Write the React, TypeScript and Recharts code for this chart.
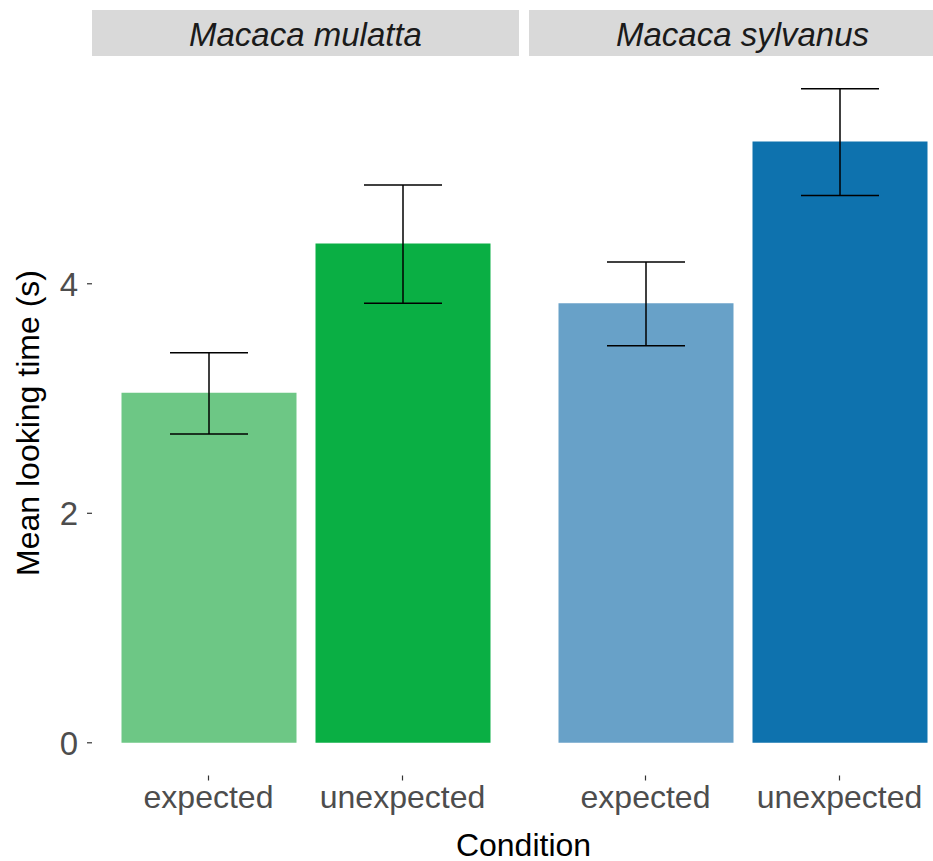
import React from "react";
import { BarChart, Bar, XAxis, YAxis, ErrorBar, Cell } from "recharts";

const categories = ["expected", "unexpected"];
const facetLabels = ["Macaca mulatta", "Macaca sylvanus"];

const mulattaMeans = [3.05, 4.35];
const mulattaLower = [2.69, 3.83];
const mulattaUpper = [3.4, 4.86];
const mulattaColors = ["#6DC785", "#0AAF44"];

const sylvanusMeans = [3.83, 5.24];
const sylvanusLower = [3.46, 4.77];
const sylvanusUpper = [4.19, 5.7];
const sylvanusColors = ["#68A1C8", "#0E72AE"];

const yTicks = [0, 2, 4];

const FONT = "'Liberation Sans', Arial, Helvetica, sans-serif";

const build = (means: number[], lower: number[], upper: number[]) =>
  categories.map((c, i) => ({
    condition: c,
    mean: means[i],
    err: [means[i] - lower[i], upper[i] - means[i]],
  }));

const mulattaData = build(mulattaMeans, mulattaLower, mulattaUpper);
const sylvanusData = build(sylvanusMeans, sylvanusLower, sylvanusUpper);

const Y_DOMAIN: [number, number] = [-0.285, 5.985];
const CH = 861;
const TOP = 56;
const BOTTOM = 85.5;

const XTick = (props: any) => {
  const { x, y, payload } = props;
  return (
    <text x={x} y={y + 25.5} textAnchor="middle" fill="#4D4D4D" fontSize={32} fontFamily={FONT}>
      {payload.value}
    </text>
  );
};

const YTick = (props: any) => {
  const { x, y, payload } = props;
  return (
    <text x={x} y={y + 12} textAnchor="end" fill="#4D4D4D" fontSize={33} fontFamily={FONT}>
      {payload.value}
    </text>
  );
};

const Panel = ({ data, colors, showY }: { data: any[]; colors: string[]; showY: boolean }) => (
  <BarChart
    width={showY ? 519 : 427}
    height={CH}
    data={data}
    margin={{ top: TOP, bottom: 0, left: 0, right: 0 }}
    barSize={175}
  >
    <XAxis
      dataKey="condition"
      height={BOTTOM}
      padding={{ left: 19.5, right: 19.5 }}
      axisLine={false}
      tickLine={{ stroke: "#333333", strokeWidth: 1.2 }}
      tickSize={5}
      tickMargin={2}
      tick={<XTick />}
      interval={0}
    />
    <YAxis
      domain={Y_DOMAIN}
      ticks={yTicks}
      type="number"
      allowDataOverflow
      hide={!showY}
      width={92}
      axisLine={false}
      tickLine={{ stroke: "#333333", strokeWidth: 1.2 }}
      tickSize={5}
      tickMargin={9}
      tick={<YTick />}
    />
    <Bar dataKey="mean" isAnimationActive={false}>
      {data.map((d, i) => (
        <Cell key={d.condition} fill={colors[i]} />
      ))}
      <ErrorBar dataKey="err" width={39} stroke="#000000" strokeWidth={1.5} direction="y" />
    </Bar>
  </BarChart>
);

export default function App() {
  return (
    <div
      style={{
        position: "absolute",
        left: 0,
        top: 0,
        width: 933,
        height: 861,
        overflow: "hidden",
        background: "#ffffff",
      }}
    >
      <div style={{ position: "absolute", left: 0, top: 0 }}>
        <Panel data={mulattaData} colors={mulattaColors} showY={true} />
      </div>
      <div style={{ position: "absolute", left: 529, top: 0 }}>
        <Panel data={sylvanusData} colors={sylvanusColors} showY={false} />
      </div>
      <svg
        width={933}
        height={861}
        style={{ position: "absolute", left: 0, top: 0, pointerEvents: "none" }}
      >
        <rect x={92} y={10} width={427} height={46} fill="#D9D9D9" />
        <rect x={529} y={10} width={427} height={46} fill="#D9D9D9" />
        <text x={305.5} y={45.5} textAnchor="middle" fontStyle="italic" fontSize={33} fill="#1A1A1A" fontFamily={FONT}>
          {facetLabels[0]}
        </text>
        <text x={742.5} y={45.5} textAnchor="middle" fontStyle="italic" fontSize={33} fill="#1A1A1A" fontFamily={FONT}>
          {facetLabels[1]}
        </text>
        <text
          x={39}
          y={423}
          textAnchor="middle"
          fontSize={32}
          fill="#000000"
          fontFamily={FONT}
          transform="rotate(-90, 39, 423)"
        >
          Mean looking time (s)
        </text>
        <text x={523.5} y={856} textAnchor="middle" fontSize={32} fill="#000000" fontFamily={FONT}>
          Condition
        </text>
      </svg>
    </div>
  );
}
